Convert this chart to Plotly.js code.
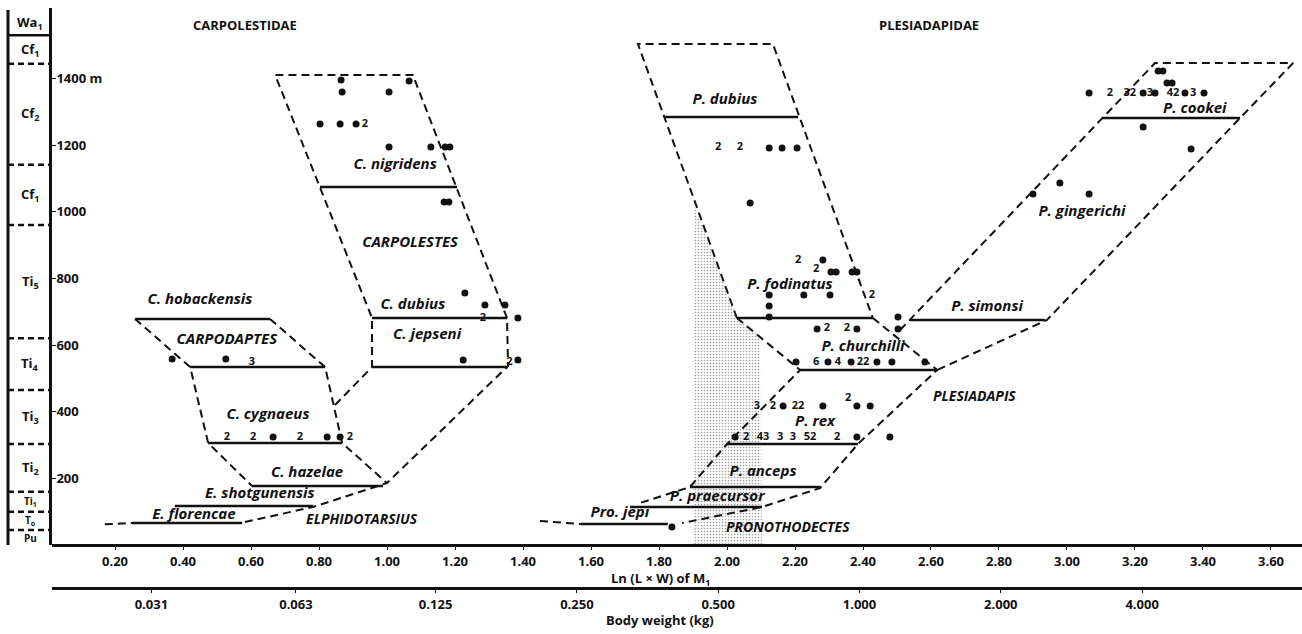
<!DOCTYPE html>
<html><head><meta charset="utf-8">
<script src="https://cdn.plot.ly/plotly-3.0.1.min.js"></script>
<style>html,body{margin:0;padding:0;background:#fff}#chart{width:1302px;height:634px}</style>
</head><body><div id="chart"></div>
<script>
// ---------- DATA (Ln(L x W) of M1 vs stratigraphic level in metres) ----------
const levelTicks  = [200, 400, 600, 800, 1000, 1200, 1400];
const levelLabels = ['200', '400', '600', '800', '1000', '1200', '1400 m'];
const weightTicks  = [0.031, 0.063, 0.125, 0.25, 0.5, 1, 2, 4];
const weightLabels = ['0.031', '0.063', '0.125', '0.250', '0.500', '1.000', '2.000', '4.000'];

// stratigraphic column
const zoneNames = ['Pu', 'T<sub>o</sub>', 'Ti<sub>1</sub>', 'Ti<sub>2</sub>', 'Ti<sub>3</sub>', 'Ti<sub>4</sub>', 'Ti<sub>5</sub>', 'Cf<sub>1</sub>', 'Cf<sub>2</sub>', 'Cf<sub>1</sub>', 'Wa<sub>1</sub>'];
const zoneBase  = [0, 45, 100, 160, 303, 465, 620, 960, 1141, 1444, 1529];
const zoneTop   = [45, 100, 160, 303, 465, 620, 960, 1141, 1444, 1529, 1605];

// species range bars
const barNames   = ['C. hobackensis', 'Carpodaptes sp.', 'C. cygnaeus', 'C. hazelae', 'E. shotgunensis', 'E. florencae', 'C. nigridens', 'C. dubius', 'C. jepseni', 'P. dubius', 'P. fodinatus', 'P. churchilli', 'P. rex', 'P. anceps', 'P. praecursor', 'Pro. jepi', 'P. simonsi', 'P. cookei'];
const barLnStart = [0.259, 0.421, 0.474, 0.603, 0.376, 0.250, 0.803, 0.956, 0.956, 1.818, 2.029, 2.215, 2.000, 1.891, 1.715, 1.568, 2.538, 3.103];
const barLnEnd   = [0.656, 0.818, 0.868, 0.988, 0.782, 0.574, 1.206, 1.353, 1.356, 2.209, 2.429, 2.618, 2.385, 2.274, 2.103, 1.826, 2.935, 3.509];
const barLevel   = [678, 534, 306, 177, 117, 66, 1074, 681, 534, 1284, 681, 525, 303, 174, 114, 63, 675, 1281];

// dashed lineage outlines
const carpodaptesLeftLn  = [0.259, 0.421, 0.474, 0.603];
const carpodaptesLeftM   = [678, 534, 306, 177];
const carpodaptesRightLn = [0.656, 0.818, 0.868, 1.000];
const carpodaptesRightM  = [678, 534, 306, 186];
const elphidotarsiusLn   = [0.582, 0.782, 1.000, 1.353];
const elphidotarsiusM    = [69, 114, 186, 534];
const florencaeExtLn     = [0.170, 0.250];
const florencaeExtM      = [62, 66];
const carpolestesLn      = [0.847, 0.956, 0.956, 0.671, 1.076, 1.353, 1.356];
const carpolestesM       = [420, 534, 681, 1410, 1410, 681, 534];
const pDubiusBoxLn       = [2.029, 1.738, 2.135, 2.429];
const pDubiusBoxM        = [681, 1503, 1503, 681];
const plesLeftLn         = [2.029, 2.215, 2.000, 1.891, 1.744];
const plesLeftM          = [681, 525, 303, 174, 126];
const plesRightLn        = [2.429, 2.618, 2.385, 2.274, 2.103, 1.868];
const plesRightM         = [681, 525, 303, 171, 114, 66];
const plesUpperLn        = [2.509, 3.103, 3.259, 3.665, 3.509, 2.941, 2.618];
const plesUpperM         = [645, 1281, 1446, 1446, 1281, 675, 525];
const proJepiExtLn       = [1.450, 1.568];
const proJepiExtM        = [72, 63];

// stippled zone
const stippleLn = [1.903, 2.029, 2.097, 2.103, 1.900];
const stippleM  = [1020, 684, 624, 0, 0];

// single specimens
const carpoDotLn = [0.368, 0.526, 0.665, 0.824, 0.862, 0.865, 1.065, 0.868, 1.006, 0.803, 0.862, 0.909, 1.006, 1.129, 1.171, 1.185, 1.168, 1.182, 1.229, 1.288, 1.347, 1.224, 1.385, 1.385];
const carpoDotM  = [558, 558, 324, 324, 324, 1395, 1392, 1359, 1359, 1263, 1263, 1263, 1194, 1194, 1194, 1194, 1029, 1029, 756, 720, 720, 555, 681, 555];
const plesDotLn = [2.124, 2.162, 2.206, 2.068, 2.282, 2.306, 2.321, 2.368, 2.382, 2.124, 2.226, 2.303, 2.124, 2.124, 2.265, 2.382, 2.503, 2.503,
                   2.203, 2.297, 2.365, 2.441, 2.485, 2.582, 2.165, 2.282, 2.382, 2.421, 2.024, 2.382, 2.479, 1.838,
                   2.900, 2.979, 3.065, 3.224, 3.365, 3.065, 3.224, 3.259, 3.347, 3.403, 3.268, 3.282, 3.294, 3.309];
const plesDotM  = [1191, 1191, 1191, 1026, 855, 819, 819, 819, 819, 750, 750, 750, 717, 684, 648, 648, 684, 648,
                   549, 549, 549, 549, 549, 549, 417, 417, 417, 417, 324, 324, 324, 54,
                   1053, 1086, 1053, 1254, 1188, 1356, 1356, 1356, 1356, 1356, 1422, 1422, 1386, 1386];

// specimen counts
const countText = ['3', '2', '2', '2', '2', '2', '2', '2',
                   '2', '2', '2', '2', '2', '2', '2', '6', '4', '22', '3', '2', '22', '2', '2', '43', '3', '3', '52', '2',
                   '2', '32', '3', '42', '3'];
const countLn   = [0.603, 0.529, 0.606, 0.744, 0.891, 0.935, 1.282, 1.360,
                   1.974, 2.038, 2.209, 2.262, 2.426, 2.294, 2.353, 2.262, 2.326, 2.400, 2.088, 2.135, 2.209, 2.356, 2.056, 2.106, 2.156, 2.194, 2.244, 2.324,
                   3.126, 3.185, 3.244, 3.312, 3.371];
const countM    = [549, 324, 324, 324, 324, 1263, 681, 549,
                   1194, 1194, 855, 828, 750, 651, 651, 549, 549, 549, 417, 417, 417, 441, 324, 324, 324, 324, 324, 324,
                   1356, 1356, 1356, 1356, 1356];

// taxon labels
const labelText = ['C. hobackensis', 'CARPODAPTES', 'C. cygnaeus', 'C. hazelae', 'E. shotgunensis', 'E. florencae', 'C. nigridens', 'CARPOLESTES', 'C. dubius', 'C. jepseni',
                   'P. dubius', 'P. fodinatus', 'P. churchilli', 'P. rex', 'P. anceps', 'P. praecursor', 'Pro. jepi', 'P. simonsi', 'P. gingerichi', 'P. cookei'];
const labelLn   = [0.450, 0.529, 0.650, 0.765, 0.626, 0.432, 1.024, 1.068, 1.076, 1.118, 1.994, 2.185, 2.400, 2.259, 2.106, 1.971, 1.685, 2.765, 3.044, 3.376];
const labelM    = [735, 615, 390, 216, 153, 90, 1140, 906, 720, 630, 1335, 780, 594, 369, 219, 144, 96, 714, 999, 1308];
const genusText = ['ELPHIDOTARSIUS', 'PRONOTHODECTES', 'PLESIADAPIS'];
const genusLn   = [0.762, 1.997, 2.606];
const genusM    = [75, 51, 444];

// ---------- DRAWING ----------
const FONT = '"Open Sans", Lato, sans-serif';
const INK = '#111';
const yDomBottom = 0.0741;
const traces = [];

traces.push({x: stippleLn, y: stippleM, mode: 'lines', fill: 'toself', line: {width: 0},
  fillcolor: 'rgba(215,215,215,0.3)',
  fillpattern: {shape: '.', size: 3, solidity: 0.25, fgcolor: '#a0a0a0'},
  hoverinfo: 'skip'});

const dashed = [
  [carpodaptesLeftLn, carpodaptesLeftM], [carpodaptesRightLn, carpodaptesRightM],
  [elphidotarsiusLn, elphidotarsiusM], [florencaeExtLn, florencaeExtM],
  [carpolestesLn, carpolestesM], [pDubiusBoxLn, pDubiusBoxM],
  [plesLeftLn, plesLeftM], [plesRightLn, plesRightM],
  [plesUpperLn, plesUpperM], [proJepiExtLn, proJepiExtM]
];
dashed.forEach(([xs, ys]) => traces.push({x: xs, y: ys, mode: 'lines',
  line: {color: INK, width: 2, dash: '8px,5px'}, hoverinfo: 'skip'}));

const bx = [], by = [];
barNames.forEach((n, i) => { bx.push(barLnStart[i], barLnEnd[i], null); by.push(barLevel[i], barLevel[i], null); });
traces.push({x: bx, y: by, mode: 'lines', line: {color: INK, width: 2.5}, hoverinfo: 'skip'});

traces.push({x: carpoDotLn.concat(plesDotLn), y: carpoDotM.concat(plesDotM), mode: 'markers',
  marker: {color: INK, size: 7}, hoverinfo: 'skip'});

traces.push({x: countLn, y: countM, text: countText, mode: 'text', textposition: 'middle center',
  textfont: {family: FONT, size: 11, color: INK, weight: 'bold'}, hoverinfo: 'skip'});

traces.push({x: labelLn, y: labelM, text: labelText, mode: 'text', textposition: 'middle center',
  textfont: {family: FONT, size: 15, color: INK, style: 'italic', weight: 'bold'}, hoverinfo: 'skip'});
traces.push({x: genusLn, y: genusM, text: genusText, mode: 'text', textposition: 'middle right',
  textfont: {family: FONT, size: 14, color: INK, style: 'italic', weight: 'bold'}, hoverinfo: 'skip'});

// invisible trace to carry the body-weight axis
traces.push({x: [weightTicks[4]], y: [0], xaxis: 'x2', yaxis: 'y', mode: 'markers',
  marker: {opacity: 0}, hoverinfo: 'skip'});

const colL = -0.0352, colC = -0.0176;
const shapes = [{type: 'line', xref: 'paper', yref: 'y', x0: colL, x1: colL, y0: 0, y1: zoneTop[zoneTop.length - 1],
  line: {color: INK, width: 3}}];
const annotations = [];
zoneNames.forEach((z, i) => {
  if (i > 0) shapes.push({type: 'line', xref: 'paper', yref: 'y', x0: colL, x1: 0, y0: zoneBase[i], y1: zoneBase[i],
    line: {color: INK, width: 2.5, dash: i === zoneNames.length - 1 ? 'solid' : '6px,4px'}});
  const h = zoneTop[i] - zoneBase[i];
  annotations.push({xref: 'paper', yref: 'y', x: colC, y: (zoneBase[i] + zoneTop[i]) / 2, text: z, showarrow: false,
    xanchor: 'center', yanchor: 'middle',
    font: {family: FONT, size: h < 70 ? 10 : 13, color: INK, weight: 'bold'}});
});
const ann = (x, y, text, size) => ({xref: 'paper', yref: 'paper', x: x, y: y, text: text, showarrow: false,
  xanchor: 'center', yanchor: 'middle', font: {family: FONT, size: size, color: INK, weight: 'bold'}});
annotations.push(
  ann(0.1544, 0.9707, 'CARPOLESTIDAE', 13),
  ann(0.7016, 0.9707, 'PLESIADAPIDAE', 13),
  ann(0.4864, 0.0155, 'Ln (L × W) of M<sub>1</sub>', 13),
  ann(0.4864, -0.0552, 'Body weight (kg)', 13)
);

const tickFont = {family: FONT, size: 13, color: INK, weight: 'bold'};
const layout = {
  width: 1302, height: 634,
  margin: {l: 52, r: 0, t: 8, b: 46, pad: 0},
  paper_bgcolor: '#fff', plot_bgcolor: '#fff',
  showlegend: false, hovermode: false,
  xaxis: {range: [0.0147, 3.6912], anchor: 'free', position: yDomBottom, tick0: 0.2, dtick: 0.2, tickformat: '.2f',
    showgrid: false, zeroline: false, showline: true, linecolor: INK, linewidth: 3,
    ticks: 'outside', ticklen: 3, tickcolor: INK, tickfont: tickFont},
  xaxis2: {overlaying: 'x', anchor: 'free', position: 0, side: 'bottom', type: 'log', range: [-1.7203, 0.9427],
    tickvals: weightTicks, ticktext: weightLabels, showgrid: false, zeroline: false, showline: true,
    linecolor: INK, linewidth: 3, ticks: 'outside', ticklen: 3, tickcolor: INK, tickfont: tickFont},
  yaxis: {domain: [yDomBottom, 1], range: [0, 1611], tickvals: levelTicks, ticktext: levelLabels,
    ticklabelposition: 'inside', ticks: 'inside', ticklen: 4, tickcolor: INK,
    showline: true, linecolor: INK, linewidth: 3, showgrid: false, zeroline: false, tickfont: tickFont},
  shapes: shapes,
  annotations: annotations
};
Plotly.newPlot('chart', traces, layout, {displayModeBar: false, staticPlot: true});
</script></body></html>
